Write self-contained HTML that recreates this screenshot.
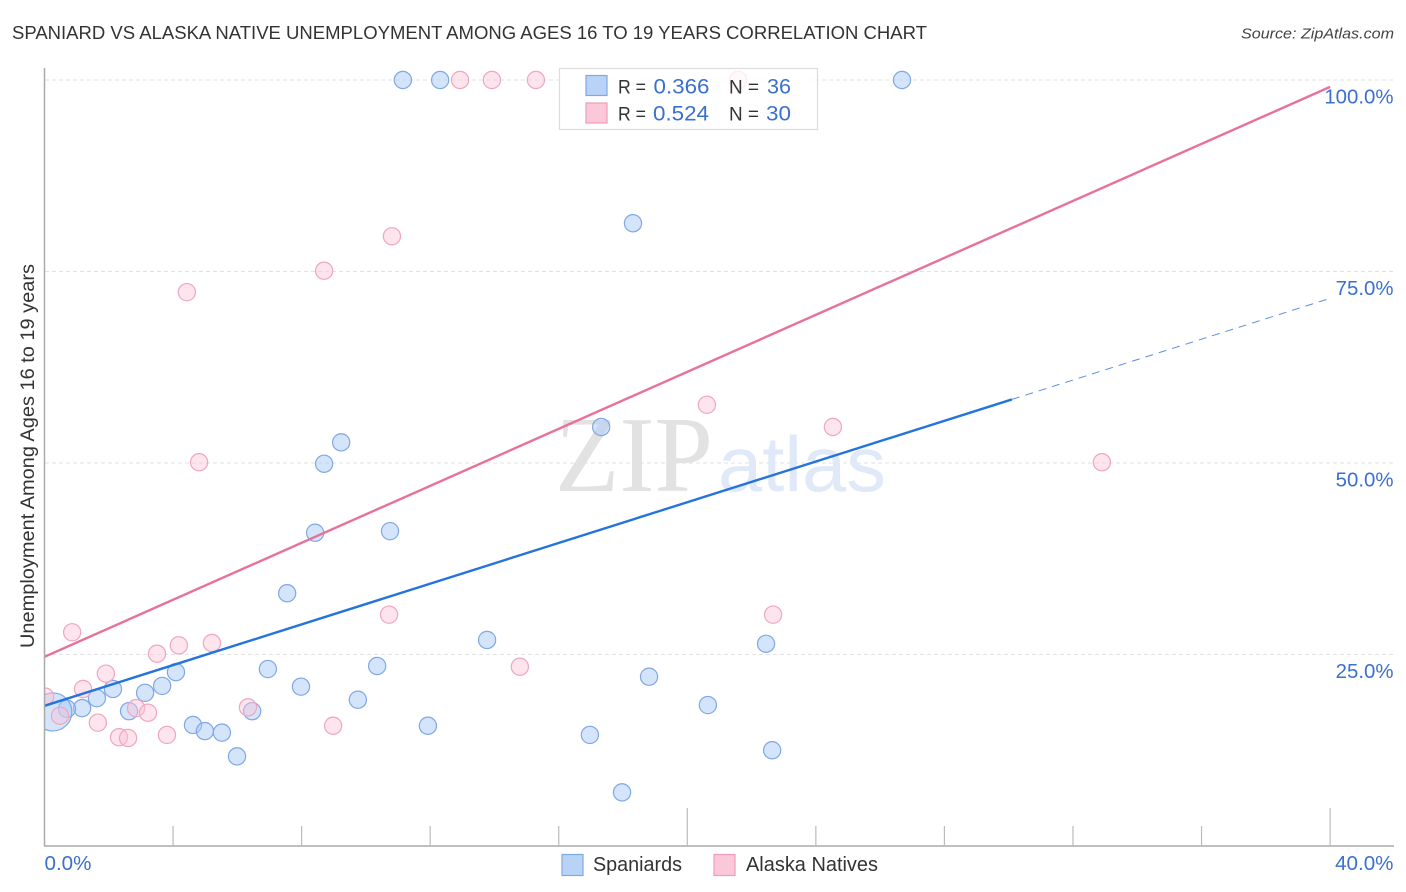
<!DOCTYPE html>
<html lang="en">
<head>
<meta charset="utf-8">
<title>Spaniard vs Alaska Native Unemployment Correlation Chart</title>
<style>
html,body{margin:0;padding:0;background:#fff;width:1406px;height:892px;overflow:hidden}
svg{display:block;font-family:"Liberation Sans",sans-serif}
</style>
</head>
<body>
<svg id="chart" width="1406" height="892" viewBox="0 0 1406 892" xmlns="http://www.w3.org/2000/svg">
  <defs>
    <clipPath id="plot-clip"><rect x="45" y="60" width="1349" height="786"/></clipPath>
  </defs>
  <text x="12" y="39" font-size="18.5" fill="#333" textLength="915" lengthAdjust="spacingAndGlyphs">SPANIARD VS ALASKA NATIVE UNEMPLOYMENT AMONG AGES 16 TO 19 YEARS CORRELATION CHART</text>
  <text x="1241" y="38.5" font-size="15" font-style="italic" fill="#444" textLength="153" lengthAdjust="spacingAndGlyphs">Source: ZipAtlas.com</text>
  <g id="gridlines"></g>
  <text x="555" y="491" font-family="'Liberation Serif',serif" font-size="108" fill="#e2e2e2" textLength="158" lengthAdjust="spacingAndGlyphs">ZIP</text>
  <text x="718" y="491" font-size="78" fill="#dfe9f8" textLength="168" lengthAdjust="spacingAndGlyphs">atlas</text>
  <g id="points" clip-path="url(#plot-clip)"></g>
  <g id="trends"></g>
  <g id="axes"></g>
  <text transform="translate(34 648) rotate(-90)" font-size="19" fill="#333" textLength="384" lengthAdjust="spacingAndGlyphs">Unemployment Among Ages 16 to 19 years</text>

  <g>
    <rect x="559.5" y="68.5" width="258" height="61" fill="#fff" fill-opacity="0.78" stroke="#dcdcdc" stroke-width="1.2"/>
    <rect x="586" y="75.5" width="21" height="20" fill="#b9d3f7" stroke="#7fa9e2" stroke-width="1.2"/>
    <text x="618" y="93.5" font-size="19" fill="#333" textLength="28" lengthAdjust="spacingAndGlyphs">R =</text>
    <text x="653.5" y="93.5" font-size="21" fill="#3a70d0" textLength="56" lengthAdjust="spacingAndGlyphs">0.366</text>
    <text x="729" y="93.5" font-size="19" fill="#333" textLength="30" lengthAdjust="spacingAndGlyphs">N =</text>
    <text x="767" y="93.5" font-size="21" fill="#3a70d0" textLength="24" lengthAdjust="spacingAndGlyphs">36</text>
    <rect x="586" y="103" width="21" height="20" fill="#fbc8d9" stroke="#ee9db8" stroke-width="1.2"/>
    <text x="618" y="120.5" font-size="19" fill="#333" textLength="28" lengthAdjust="spacingAndGlyphs">R =</text>
    <text x="653" y="120.5" font-size="21" fill="#3a70d0" textLength="56" lengthAdjust="spacingAndGlyphs">0.524</text>
    <text x="729" y="120.5" font-size="19" fill="#333" textLength="30" lengthAdjust="spacingAndGlyphs">N =</text>
    <text x="766" y="120.5" font-size="21" fill="#3a70d0" textLength="25" lengthAdjust="spacingAndGlyphs">30</text>
  </g>

  <g>
    <rect x="562" y="854.5" width="21" height="21" fill="#b9d3f7" stroke="#7fa9e2" stroke-width="1.2"/>
    <text x="593" y="871" font-size="20" fill="#333" textLength="89" lengthAdjust="spacingAndGlyphs">Spaniards</text>
    <rect x="714" y="854.5" width="21" height="21" fill="#fbc8d9" stroke="#ee9db8" stroke-width="1.2"/>
    <text x="746" y="871" font-size="20" fill="#333" textLength="132" lengthAdjust="spacingAndGlyphs">Alaska Natives</text>
  </g>
</svg>
<script>
const yTickValues = [25, 50, 75, 100];
const yTickLabels = ["25.0%", "50.0%", "75.0%", "100.0%"];
const xTickValues = [4, 8, 12, 16, 20, 24, 28, 32, 36, 40];
const xMajorTicks = [20, 40];
const xEndValues = [0, 40];
const xEndLabels = ["0.0%", "40.0%"];

const spaniardX = [11.15,12.31,26.68,18.31,17.32,9.23,8.70,8.42,10.75,7.55,13.77,22.45,4.09,6.95,10.35,18.81,3.66,7.98,2.13,3.13,9.75,1.63,1.17,0.70,0.26,2.63,6.46,20.64,11.93,4.62,4.99,5.52,16.97,22.64,5.99,17.97];
const spaniardY = [100,100,100,81.3,54.7,52.7,49.9,40.9,41.1,33.0,26.9,26.4,22.7,23.1,23.5,22.1,20.9,20.8,20.5,20.0,19.1,19.3,18.0,17.9,17.5,17.6,17.6,18.4,15.7,15.8,15.0,14.8,14.5,12.5,11.7,7.0];
const spaniardLargeIndex = 24;

const nativeX = [12.93,13.92,15.29,21.58,10.81,8.70,4.43,20.61,24.53,4.81,32.9,10.72,22.67,0.86,4.18,5.21,3.50,14.79,1.91,1.20,0.02,2.85,6.33,3.22,0.48,1.66,8.98,3.81,2.32,2.60];
const nativeY = [100,100,100,100,79.6,75.1,72.3,57.6,54.7,50.1,50.1,30.2,30.2,27.9,26.2,26.5,25.1,23.4,22.5,20.5,19.5,18.0,18.1,17.4,17.0,16.1,15.7,14.5,14.2,14.1];

const spaniardTrendX = [0, 30.1, 40];
const spaniardTrendY = [18.3, 58.3, 71.5];
const nativeTrendX = [0, 40];
const nativeTrendY = [24.7, 99.1];

const NS = 'http://www.w3.org/2000/svg';
const sx = v => 44.5 + v * 32.14;
const sy = v => 846 - v * 7.66;

function make(tag, attrs, parent, text) {
  const el = document.createElementNS(NS, tag);
  for (const k in attrs) el.setAttribute(k, attrs[k]);
  if (text !== undefined) el.textContent = text;
  parent.appendChild(el);
  return el;
}

const gridG = document.getElementById('gridlines');
const axesG = document.getElementById('axes');
const pointsG = document.getElementById('points');
const trendsG = document.getElementById('trends');

yTickValues.forEach((v, i) => {
  const grid = make('line', {x1: 45, x2: 1394, y1: sy(v), y2: sy(v), stroke: '#e2e2e2', 'stroke-width': 1, 'stroke-dasharray': '4 3'}, gridG);
  
  
  const label = make('text', {x: 1393.5, y: sy(v) + 23.5, 'text-anchor': 'end', 'font-size': 20.4, fill: '#3a70d0'}, axesG, yTickLabels[i]);
  
  
});

const yAxis = make('line', {x1: 44.5, x2: 44.5, y1: 68, y2: 846, stroke: '#aaa', 'stroke-width': 1.5}, axesG);


const xAxis = make('line', {x1: 44, x2: 1394, y1: 846, y2: 846, stroke: '#aaa', 'stroke-width': 1.5}, axesG);



xTickValues.forEach(v => {
  const top = xMajorTicks.includes(v) ? 808 : 826;
  const tick = make('line', {x1: sx(v), x2: sx(v), y1: top, y2: 846, stroke: '#bbb', 'stroke-width': 1.2}, axesG);
  
  
});

xEndValues.forEach((v, i) => {
  const label = make('text', {x: i === 0 ? sx(v) : 1393.5, y: 870, 'text-anchor': i === 0 ? 'start' : 'end', 'font-size': 20.6, fill: '#3a70d0'}, axesG, xEndLabels[i]);
  
  
});

spaniardX.forEach((v, i) => {
  const c = make('circle', {cx: sx(v), cy: sy(spaniardY[i]), r: i === spaniardLargeIndex ? 19 : 8.6, fill: '#a9c9f5', 'fill-opacity': 0.5, stroke: '#7fa8e4', 'stroke-width': 1.2}, pointsG);
  
  
});

nativeX.forEach((v, i) => {
  const c = make('circle', {cx: sx(v), cy: sy(nativeY[i]), r: 8.6, fill: '#fbc3d6', 'fill-opacity': 0.45, stroke: '#f0a6bf', 'stroke-width': 1.2}, pointsG);
  
  
});

const nativeLine = make('line', {x1: sx(nativeTrendX[0]), y1: sy(nativeTrendY[0]), x2: sx(nativeTrendX[1]), y2: sy(nativeTrendY[1]), stroke: '#e8719a', 'stroke-width': 2.4}, trendsG);



const spaniardLine = make('line', {x1: sx(spaniardTrendX[0]), y1: sy(spaniardTrendY[0]), x2: sx(spaniardTrendX[1]), y2: sy(spaniardTrendY[1]), stroke: '#2474db', 'stroke-width': 2.4}, trendsG);



const spaniardDash = make('line', {x1: sx(spaniardTrendX[1]), y1: sy(spaniardTrendY[1]), x2: sx(spaniardTrendX[2]), y2: sy(spaniardTrendY[2]), stroke: '#5d8fdc', 'stroke-width': 1, 'stroke-dasharray': '8 6'}, trendsG);


</script>
</body>
</html>
